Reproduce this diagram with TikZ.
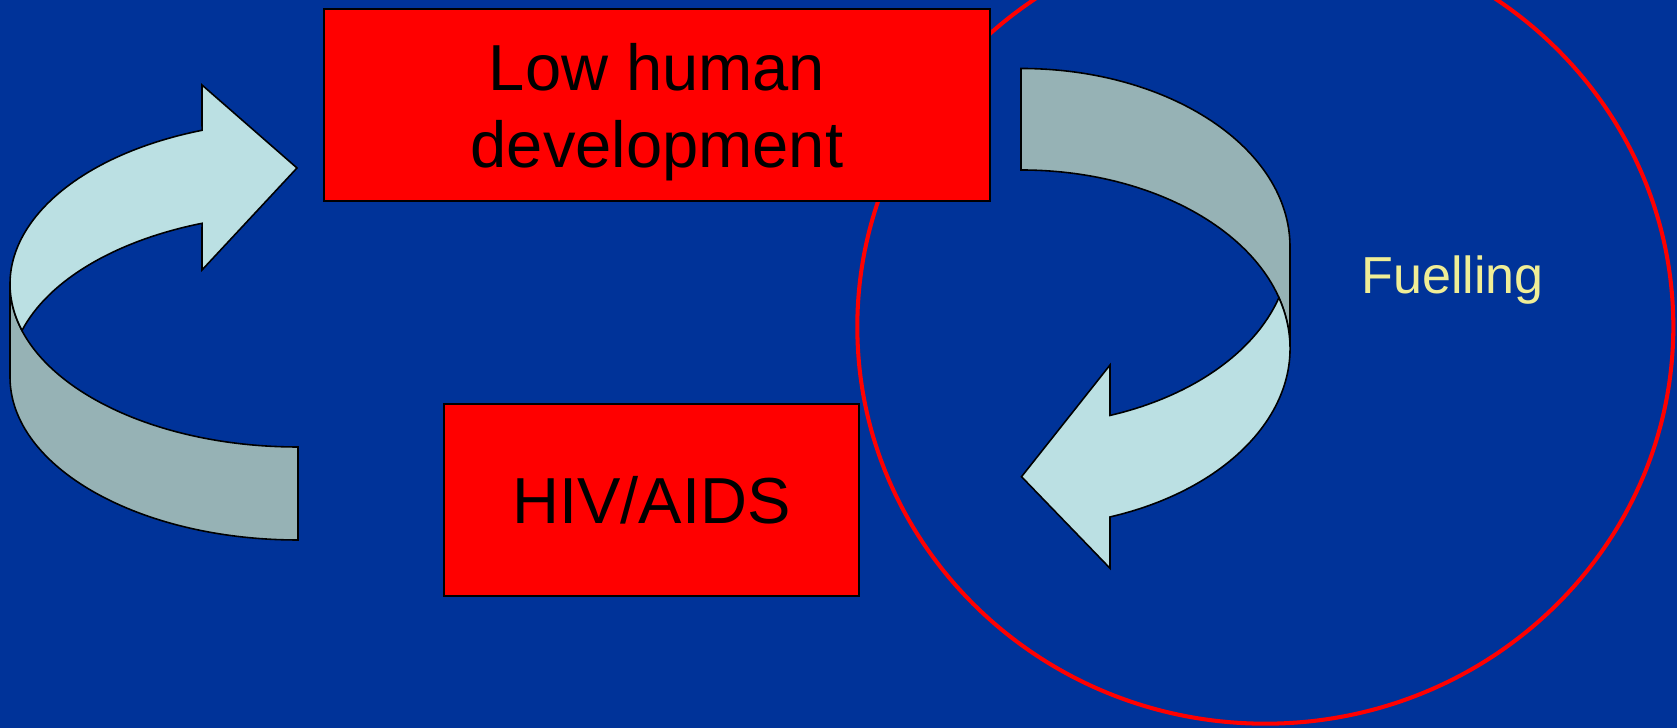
\documentclass[tikz,border=0pt]{standalone}
\usepackage{fontspec}
\setmainfont{Liberation Sans}
\usepackage{tikz}
\usetikzlibrary{positioning}
\definecolor{slideblue}{RGB}{0,51,153}
\definecolor{ribbonlight}{RGB}{187,224,227}
\definecolor{ribbondark}{RGB}{150,178,181}
\definecolor{fuelyellow}{RGB}{240,238,150}

\begin{document}
\begin{tikzpicture}[x=0.01cm, y=0.01cm,
		box/.style={draw=black, line width=0.6pt, fill=red, inner sep=0pt, align=center, font=\fontsize{18.5}{21.8}\selectfont},
		band/.style={draw=black, line width=0.45pt}]
			\fill[slideblue] (0,0) rectangle (1677,728);
			\useasboundingbox (0,0) rectangle (1677,728);
			\draw[red, line width=1.15pt] (1265.3,401.3) ellipse [x radius=408, y radius=397];
			\filldraw[band, fill=ribbondark] (10,444) arc[start angle=180, end angle=270, x radius=288, y radius=163]
				-- (298,188) arc[start angle=270, end angle=180, x radius=288, y radius=163] -- cycle;
			\filldraw[band, fill=ribbonlight] (202.04,597.7) arc[start angle=109.47, end angle=196.58, x radius=288, y radius=163]
				arc[start angle=163.42, end angle=109.47, x radius=288, y radius=163]
				-- (202,458) -- (297,560) -- (202,643) -- cycle;
			\filldraw[band, fill=ribbondark] (1021,659.5) arc[start angle=90, end angle=0, x radius=269, y radius=178.5]
				-- (1290,379.5) arc[start angle=0, end angle=90, x radius=269, y radius=178.5] -- cycle;
			\filldraw[band, fill=ribbonlight] (1110,312.55) arc[start angle=-70.68, end angle=-16.52, x radius=269, y radius=178.5]
				arc[start angle=16.52, end angle=-70.68, x radius=269, y radius=178.5]
				-- (1110,159.7) -- (1021.5,251.3) -- (1110,363) -- cycle;
			\node[box, minimum width=6.66cm, minimum height=1.915cm, text height=1.44cm, text depth=0.2cm] (lowdev) at (657,622.75) {Low human\\development};
			\node[box, minimum width=4.15cm, minimum height=1.92cm] (hivaids) at (651.5,228) {HIV/AIDS};
			\node[text=fuelyellow, inner sep=0pt, anchor=base, font=\fontsize{14.8}{17}\selectfont] (fuelling) at (1452.7,434.7) {Fuelling};
		\end{tikzpicture}
\end{document}
